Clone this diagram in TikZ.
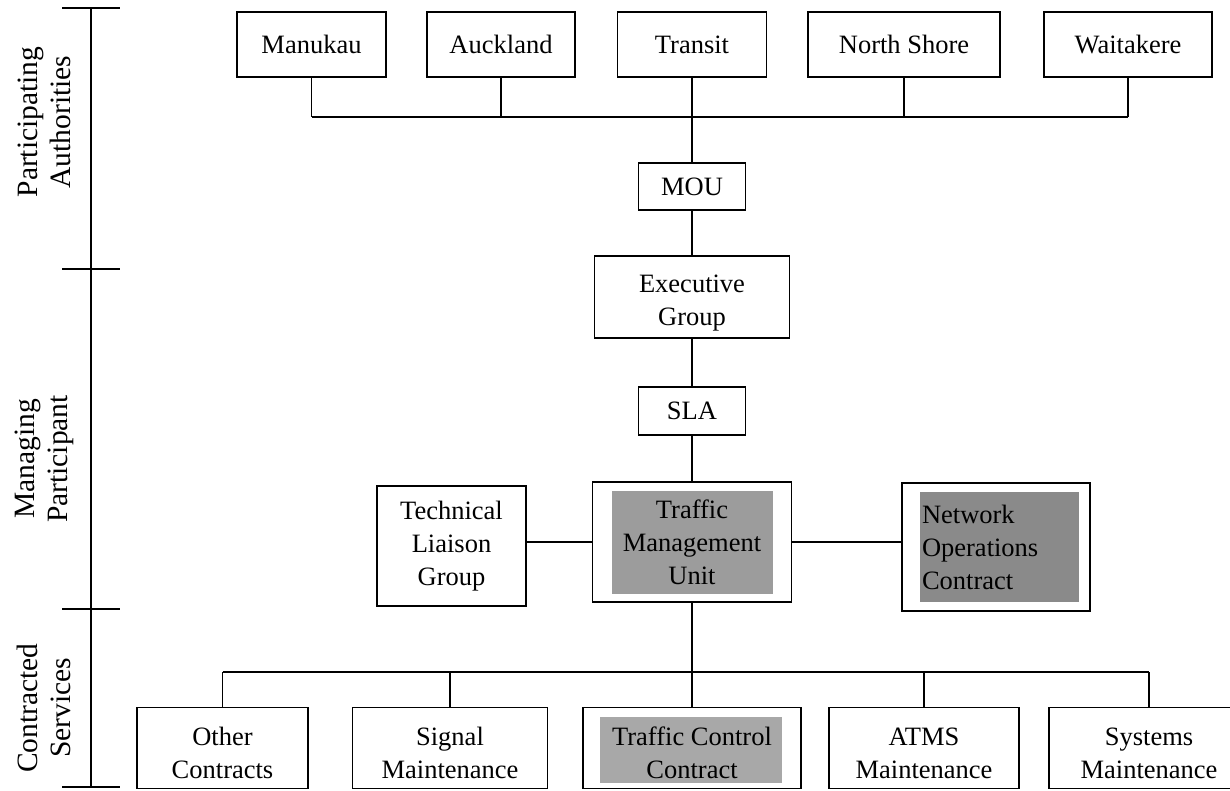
\documentclass[tikz,border=0pt]{standalone}
\usepackage{fontspec}
\setmainfont{Liberation Serif}
\definecolor{shadeA}{HTML}{9C9C9C}
\definecolor{shadeB}{HTML}{8A8A8A}
\definecolor{shadeC}{HTML}{A8A8A8}
\begin{document}
\begin{tikzpicture}[x=1pt,y=-1pt,line width=1.6pt,
  txt/.style={font=\fontsize{26.5}{33}\selectfont},
  box/.style={draw, rectangle, inner sep=0pt, align=center, txt},
  topbox/.style={box, minimum height=65},
  midbox/.style={box},
  botbox/.style={box, minimum height=81, text height=61pt},
  sidelabel/.style={font=\fontsize{29.5}{33}\selectfont, rotate=90, align=center, inner sep=0pt},
  tick/.style={line width=1.6pt}]
\useasboundingbox (0,0) rectangle (1230,791);
\clip (0,0) rectangle (1230,791);
\fill[white] (0,0) rectangle (1230,791);

% ---- left axis ----
\coordinate (ax0) at (91,8);
\coordinate (ax1) at (91,269);
\coordinate (ax2) at (91,609);
\coordinate (ax3) at (91,787);
\draw (ax0) -- (ax3);
\foreach \c in {ax0,ax1,ax2,ax3}{\draw[tick] ([xshift=-29pt]\c) -- ([xshift=29pt]\c);}
\node[sidelabel] (lab1) at (44,122) {Participating\\Authorities};
\node[sidelabel] (lab2) at (44,459) {Managing\\Participant};
\node[sidelabel] (lab3) at (44,708) {Contracted\\Services};

% ---- top row ----
\node[topbox, minimum width=149] (man) at (311.5,44.5) {Manukau};
\node[topbox, minimum width=148] (auc) at (501,44.5) {Auckland};
\node[topbox, minimum width=149] (tra) at (692,44.5) {Transit};
\node[topbox, minimum width=192] (nor) at (904,44.5) {North Shore};
\node[topbox, minimum width=168] (wai) at (1128,44.5) {Waitakere};

\coordinate (busT) at (0,117);
\foreach \n in {man,auc,nor,wai}{\draw (\n.south) -- (\n.south |- busT);}
\draw (man.south |- busT) -- (wai.south |- busT);

% ---- central column ----
\node[midbox, minimum width=107, minimum height=47] (mou) at (692,186.5) {MOU};
\node[midbox, minimum width=195, minimum height=82, text height=62pt] (exe) at (692,297) {Executive\\Group};
\node[midbox, minimum width=107, minimum height=48] (sla) at (692,411) {SLA};
\node[midbox, minimum width=199, minimum height=120,
  path picture={\fill[shadeA] ([shift={(19,9)}]path picture bounding box.north west) rectangle ([shift={(-19,-8)}]path picture bounding box.south east);}]
  (tmu) at (692,542) {Traffic\\Management\\Unit};
\node[midbox, minimum width=149, minimum height=120] (tlg) at (451.5,546) {Technical\\Liaison\\Group};
\node[midbox, minimum width=188, minimum height=128, text width=148, inner xsep=20pt, align=left,
  path picture={\fill[shadeB] ([shift={(18,9)}]path picture bounding box.north west) rectangle ([shift={(-11,-9)}]path picture bounding box.south east);}]
  (noc) at (996,547) {Network\\Operations\\Contract};

\draw (tra.south) -- (mou.north);
\draw (mou.south) -- (exe.north);
\draw (exe.south) -- (sla.north);
\draw (sla.south) -- (tmu.north);
\draw (tmu.west) -- (tmu.west -| tlg.east);
\draw (tmu.east) -- (tmu.east -| noc.west);

% ---- bottom row ----
\node[botbox, minimum width=171] (oth) at (222.5,748) {Other\\Contracts};
\node[botbox, minimum width=195] (sig) at (450,748) {Signal\\Maintenance};
\node[botbox, minimum width=218,
  path picture={\fill[shadeC] ([shift={(17,9)}]path picture bounding box.north west) rectangle ([shift={(-19,-6)}]path picture bounding box.south east);}]
  (tcc) at (692,748) {Traffic Control\\Contract};
\node[botbox, minimum width=190] (atm) at (924,748) {ATMS\\Maintenance};
\node[botbox, minimum width=200] (sys) at (1149,748) {Systems\\Maintenance};

\coordinate (busB) at (0,672);
\draw (tmu.south) -- (tcc.north);
\foreach \n in {oth,sig,atm,sys}{\draw (\n.north) -- (\n.north |- busB);}
\draw (oth.north |- busB) -- (sys.north |- busB);
\end{tikzpicture}
\end{document}
